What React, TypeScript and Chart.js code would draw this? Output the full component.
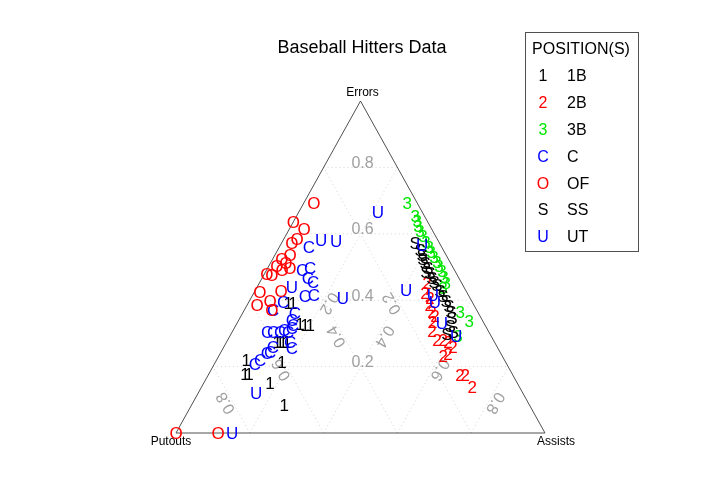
import React, { useEffect, useRef } from "react";
import { Chart, registerables } from "chart.js";
Chart.register(...registerables);

// Ternary data: each row is [Putouts, Assists, Errors] (fractions)
const positions = ["1B", "2B", "3B", "C", "OF", "SS", "UT"];
const symbols = ["1", "2", "3", "C", "O", "S", "U"];
const colors = ["#000000", "#ff0000", "#00e600", "#0000ff", "#ff0000", "#000000", "#0000ff"];
const gridTicks = [0.2, 0.4, 0.6, 0.8];
const tickLabels = ["0.2", "0.4", "0.6", "0.8"];
const vertexLabels = ["Putouts", "Assists", "Errors"];
const chartTitle = "Baseball Hitters Data";
const legendTitle = "POSITION(S)";

const data1B = [
  [0.5, 0.108, 0.392], [0.487, 0.121, 0.392], [0.5, 0.172, 0.328], [0.488, 0.187, 0.325],
  [0.474, 0.201, 0.325], [0.589, 0.137, 0.274], [0.581, 0.145, 0.274], [0.573, 0.153, 0.274],
  [0.562, 0.164, 0.274], [0.606, 0.18, 0.214], [0.7, 0.08, 0.22], [0.724, 0.098, 0.178],
  [0.713, 0.109, 0.178], [0.67, 0.179, 0.151], [0.665, 0.251, 0.084],
];
const data2B = [
  [0.094, 0.454, 0.452], [0.114, 0.464, 0.422], [0.108, 0.485, 0.407], [0.121, 0.493, 0.386],
  [0.124, 0.512, 0.364], [0.122, 0.526, 0.352], [0.137, 0.529, 0.334], [0.153, 0.54, 0.307],
  [0.153, 0.567, 0.28], [0.136, 0.584, 0.28], [0.126, 0.6, 0.274], [0.12, 0.621, 0.259],
  [0.16, 0.608, 0.232], [0.144, 0.618, 0.238], [0.143, 0.682, 0.175], [0.129, 0.696, 0.175],
  [0.128, 0.733, 0.139],
];
const data3B = [
  [0.027, 0.28, 0.693], [0.025, 0.321, 0.654], [0.027, 0.334, 0.639], [0.033, 0.344, 0.623],
  [0.035, 0.357, 0.608], [0.034, 0.373, 0.593], [0.035, 0.39, 0.575], [0.034, 0.406, 0.56],
  [0.036, 0.419, 0.545], [0.036, 0.434, 0.53], [0.035, 0.45, 0.515], [0.036, 0.461, 0.503],
  [0.035, 0.477, 0.488], [0.039, 0.491, 0.47], [0.042, 0.506, 0.452], [0.058, 0.505, 0.437],
  [0.048, 0.588, 0.364], [0.037, 0.626, 0.337], [0.09, 0.618, 0.292],
];
const dataC = [
  [0.36, 0.08, 0.56], [0.413, 0.096, 0.491], [0.388, 0.115, 0.497], [0.409, 0.124, 0.467],
  [0.401, 0.144, 0.455], [0.444, 0.143, 0.413], [0.418, 0.166, 0.416], [0.512, 0.093, 0.395],
  [0.552, 0.078, 0.37], [0.497, 0.142, 0.361], [0.516, 0.144, 0.34], [0.52, 0.155, 0.325],
  [0.601, 0.095, 0.304], [0.585, 0.111, 0.304], [0.566, 0.13, 0.304], [0.552, 0.138, 0.31],
  [0.544, 0.152, 0.304], [0.528, 0.156, 0.316], [0.554, 0.172, 0.274], [0.608, 0.133, 0.259],
  [0.558, 0.186, 0.256], [0.633, 0.126, 0.241], [0.662, 0.118, 0.22], [0.682, 0.11, 0.208],
  [0.623, 0.133, 0.244],
];
const dataOF = [
  [0.28, 0.027, 0.693], [0.364, 0.0, 0.636], [0.346, 0.04, 0.614], [0.38, 0.036, 0.584],
  [0.4, 0.028, 0.572], [0.423, 0.041, 0.536], [0.451, 0.025, 0.524], [0.446, 0.042, 0.512],
  [0.475, 0.022, 0.503], [0.443, 0.06, 0.497], [0.467, 0.042, 0.491], [0.514, 0.007, 0.479],
  [0.502, 0.022, 0.476], [0.56, 0.015, 0.425], [0.501, 0.071, 0.428], [0.546, 0.056, 0.398],
  [0.587, 0.027, 0.386], [0.555, 0.075, 0.37], [1.0, 0.0, 0.0], [0.886, 0.114, 0.0],
];
const dataSS = [
  [0.066, 0.362, 0.572], [0.063, 0.386, 0.551], [0.065, 0.399, 0.536], [0.069, 0.407, 0.524],
  [0.069, 0.419, 0.512], [0.069, 0.434, 0.497], [0.071, 0.447, 0.482], [0.073, 0.46, 0.467],
  [0.073, 0.472, 0.455], [0.07, 0.484, 0.446], [0.071, 0.501, 0.428], [0.07, 0.517, 0.413],
  [0.069, 0.533, 0.398], [0.069, 0.548, 0.383], [0.073, 0.563, 0.364], [0.079, 0.575, 0.346],
  [0.096, 0.582, 0.322], [0.097, 0.599, 0.304], [0.117, 0.585, 0.298], [0.08, 0.435, 0.485],
];
const dataUT = [
  [0.12, 0.214, 0.666], [0.316, 0.103, 0.581], [0.277, 0.145, 0.578], [0.466, 0.094, 0.44],
  [0.344, 0.249, 0.407], [0.723, 0.157, 0.12], [0.848, 0.152, 0.0], [0.05, 0.384, 0.566],
  [0.161, 0.408, 0.431], [0.096, 0.488, 0.416], [0.101, 0.504, 0.395], [0.114, 0.555, 0.331],
  [0.095, 0.613, 0.292],
];
const allData = [data1B, data2B, data3B, dataC, dataOF, dataSS, dataUT];

const FONT = "'Liberation Sans', Arial, Helvetica, sans-serif";

// ternary -> cartesian on unit scales: x = A + E/2, y = E
const toXY = (p: number, a: number, e: number) => {
  const s = p + a + e;
  const A = a / s;
  const E = e / s;
  return { x: A + E / 2, y: E };
};

const ternaryPlugin = {
  id: "ternary",
  beforeDatasetsDraw(chart: any) {
    const ctx = chart.ctx;
    const xs = chart.scales.x;
    const ys = chart.scales.y;
    const px = (p: number, a: number, e: number) => {
      const c = toXY(p, a, e);
      return [xs.getPixelForValue(c.x), ys.getPixelForValue(c.y)];
    };
    ctx.save();
    // grid
    ctx.strokeStyle = "#d3d3d3";
    ctx.lineWidth = 1;
    ctx.setLineDash([1, 3]);
    gridTicks.forEach((v) => {
      const segs = [
        [px(1 - v, 0, v), px(0, 1 - v, v)],
        [px(v, 1 - v, 0), px(v, 0, 1 - v)],
        [px(1 - v, v, 0), px(0, v, 1 - v)],
      ];
      segs.forEach(([s, t]) => {
        ctx.beginPath();
        ctx.moveTo(s[0], s[1]);
        ctx.lineTo(t[0], t[1]);
        ctx.stroke();
      });
    });
    ctx.setLineDash([]);
    // triangle
    const P = px(1, 0, 0), A = px(0, 1, 0), E = px(0, 0, 1);
    ctx.strokeStyle = "#505050";
    ctx.beginPath();
    ctx.moveTo(P[0], P[1]);
    ctx.lineTo(A[0], A[1]);
    ctx.lineTo(E[0], E[1]);
    ctx.closePath();
    ctx.stroke();
    // tick labels
    ctx.fillStyle = "#a0a0a0";
    ctx.font = "16px " + FONT;
    ctx.textAlign = "center";
    ctx.textBaseline = "middle";
    gridTicks.forEach((v, i) => {
      const w = (1 - v) / 2;
      const items: [number[], number][] = [
        [px(w, w, v), 0],
        [px(v, w, w), (-120 * Math.PI) / 180],
        [px(w, v, w), (120 * Math.PI) / 180],
      ];
      items.forEach(([pt, rot]) => {
        ctx.save();
        ctx.translate(pt[0] + (rot === 0 ? 2 : 0), pt[1]);
        ctx.rotate(rot);
        ctx.fillText(tickLabels[i], 0, rot === 0 ? -4 : -6);
        ctx.restore();
      });
    });
    // vertex labels
    ctx.fillStyle = "#000";
    ctx.font = "12px " + FONT;
    ctx.fillText(vertexLabels[0], P[0] - 5, P[1] + 9);
    ctx.fillText(vertexLabels[1], A[0] + 11, A[1] + 9);
    ctx.fillText(vertexLabels[2], E[0] + 2, E[1] - 8);
    ctx.restore();
  },
  afterDatasetsDraw(chart: any) {
    const ctx = chart.ctx;
    ctx.save();
    ctx.font = "17px " + FONT;
    ctx.textAlign = "center";
    ctx.textBaseline = "middle";
    chart.data.datasets.forEach((ds: any, i: number) => {
      const meta = chart.getDatasetMeta(i);
      ctx.fillStyle = colors[i];
      meta.data.forEach((el: any) => {
        ctx.fillText(symbols[i], el.x, el.y + 1);
      });
    });
    // title
    ctx.fillStyle = "#000";
    ctx.font = "18px " + FONT;
    ctx.fillText(chartTitle, 362, 48);
    // legend
    ctx.strokeStyle = "#505050";
    ctx.lineWidth = 1;
    ctx.strokeRect(525.5, 32.5, 113, 219);
    ctx.font = "16px " + FONT;
    ctx.fillText(legendTitle, 581, 50);
    positions.forEach((name, i) => {
      const y = 77 + i * 26.8;
      ctx.textAlign = "center";
      ctx.fillStyle = colors[i];
      ctx.fillText(symbols[i], 543, y);
      ctx.textAlign = "left";
      ctx.fillStyle = "#000";
      ctx.fillText(name, 567, y);
    });
    ctx.restore();
  },
};

export default function App() {
  const ref = useRef<HTMLCanvasElement>(null);
  useEffect(() => {
    if (!ref.current) return;
    const chart = new Chart(ref.current, {
      type: "scatter",
      data: {
        datasets: allData.map((rows, i) => ({
          label: positions[i],
          data: rows.map((r) => toXY(r[0], r[1], r[2])),
          pointRadius: 0,
          pointHoverRadius: 0,
          backgroundColor: colors[i],
          borderColor: colors[i],
        })),
      },
      options: {
        responsive: false,
        animation: false,
        layout: { padding: { left: 176, right: 182, top: 101, bottom: 48 } },
        scales: {
          x: { type: "linear", min: 0, max: 1, display: false },
          y: { type: "linear", min: 0, max: 1, display: false },
        },
        plugins: { legend: { display: false }, title: { display: false }, tooltip: { enabled: false } },
        events: [],
      },
      plugins: [ternaryPlugin],
    });
    return () => chart.destroy();
  }, []);
  return (
    <div style={{ position: "fixed", left: 0, top: 0, width: 727, height: 481, background: "#fff" }}>
      <canvas ref={ref} width={727} height={481} style={{ display: "block" }} />
    </div>
  );
}
